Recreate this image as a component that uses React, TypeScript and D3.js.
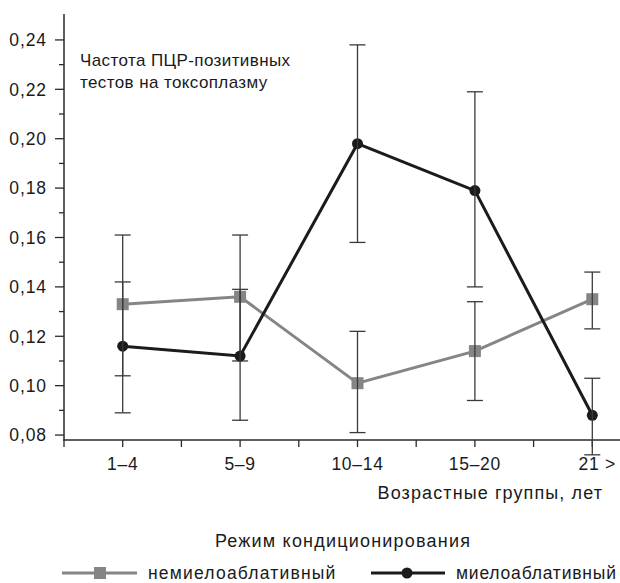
import React from 'react';
import * as d3 from 'd3';

// age groups and PCR-positive test frequency
const categories = ['1–4', '5–9', '10–14', '15–20', '21 >'];

const nonMyelo = [0.133, 0.136, 0.101, 0.114, 0.135];
const nonMyeloLow = [0.104, 0.110, 0.081, 0.094, 0.123];
const nonMyeloHigh = [0.142, 0.139, 0.122, 0.134, 0.146];

const myelo = [0.116, 0.112, 0.198, 0.179, 0.088];
const myeloLow = [0.089, 0.086, 0.158, 0.140, 0.072];
const myeloHigh = [0.161, 0.161, 0.238, 0.219, 0.103];

const yTicks = [0.08, 0.10, 0.12, 0.14, 0.16, 0.18, 0.20, 0.22, 0.24];
const yMinorTicks = [0.09, 0.11, 0.13, 0.15, 0.17, 0.19, 0.21, 0.23];

const W = 620;
const H = 583;
const FONT = '"Liberation Sans", Arial, Helvetica, sans-serif';
const INK = '#1a1a1a';

const App = () => {
  const x = d3.scaleBand<string>().domain(categories).range([64, 651]);
  const y = d3.scaleLinear().domain([0.078, 0.2505]).range([440, 14]);
  const cx = (c: string) => (x(c) as number) + x.bandwidth() / 2;

  const line = d3
    .line<number>()
    .x((_, i) => cx(categories[i]))
    .y(d => y(d));

  const fmt = (v: number) => v.toFixed(2).replace('.', ',');

  const series = [
    { vals: nonMyelo, lo: nonMyeloLow, hi: nonMyeloHigh, color: '#858585', marker: 'square', err: '#3a3a3a' },
    { vals: myelo, lo: myeloLow, hi: myeloHigh, color: '#1c1a1a', marker: 'circle', err: '#3a3a3a' },
  ];

  const bandEdges = categories.map(c => x(c) as number);

  return (
    <svg width={W} height={H} style={{ position: 'absolute', left: 0, top: 0, background: '#fff' }} fontFamily={FONT}>
      {/* y axis */}
      <line x1={64} x2={64} y1={14} y2={440.5} stroke="#2a2a2a" strokeWidth={1.5} />
      {yTicks.map(t => (
        <g key={t}>
          <line x1={55} x2={64} y1={y(t)} y2={y(t)} stroke="#2a2a2a" strokeWidth={1.3} />
          <text x={47} y={y(t)} dy="0.36em" textAnchor="end" fontSize={17.5} letterSpacing={0.9} fill={INK}>
            {fmt(t)}
          </text>
        </g>
      ))}
      {yMinorTicks.map(t => (
        <line key={t} x1={59} x2={64} y1={y(t)} y2={y(t)} stroke="#2a2a2a" strokeWidth={1.3} />
      ))}

      {/* x axis */}
      <line x1={63.3} x2={W} y1={440} y2={440} stroke="#2a2a2a" strokeWidth={1.5} />
      {bandEdges.map((e, i) => (
        <line key={'m' + i} x1={e} x2={e} y1={440} y2={447} stroke="#2a2a2a" strokeWidth={1.3} />
      ))}
      {categories.map(c => (
        <g key={c}>
          <line x1={cx(c)} x2={cx(c)} y1={440} y2={447} stroke="#2a2a2a" strokeWidth={1.3} />
          <text x={cx(c) + (c === '21 >' ? 5 : 0)} y={470} textAnchor="middle" fontSize={17.5} letterSpacing={0.7} fill={INK}>
            {c}
          </text>
        </g>
      ))}
      <text x={603} y={499} textAnchor="end" fontSize={18} letterSpacing={1.1} fill={INK}>
        Возрастные группы, лет
      </text>

      {/* annotation */}
      <text x={80} y={66} fontSize={17} letterSpacing={0.4} fill={INK}>Частота ПЦР-позитивных</text>
      <text x={80} y={88} fontSize={17} letterSpacing={0.4} fill={INK}>тестов на токсоплазму</text>

      {/* series */}
      {series.map((s, si) => (
        <g key={si}>
          <path d={line(s.vals) || ''} fill="none" stroke={s.color} strokeWidth={3} />
          {s.vals.map((v, i) =>
            s.marker === 'square' ? (
              <rect key={i} x={cx(categories[i]) - 6} y={y(v) - 6} width={12} height={12} fill={s.color} />
            ) : (
              <circle key={i} cx={cx(categories[i])} cy={y(v)} r={5.5} fill={s.color} />
            )
          )}
          {s.vals.map((_, i) => {
            const px = cx(categories[i]);
            return (
              <g key={'e' + i} stroke={s.err} strokeWidth={1.3}>
                <line x1={px} x2={px} y1={y(s.hi[i])} y2={y(s.lo[i])} />
                <line x1={px - 8} x2={px + 8} y1={y(s.hi[i])} y2={y(s.hi[i])} />
                <line x1={px - 8} x2={px + 8} y1={y(s.lo[i])} y2={y(s.lo[i])} />
              </g>
            );
          })}
        </g>
      ))}

      {/* legend */}
      <text x={343} y={547} textAnchor="middle" fontSize={18} letterSpacing={1.2} fill={INK}>
        Режим кондиционирования
      </text>
      <line x1={62} x2={137} y1={573} y2={573} stroke="#858585" strokeWidth={3} />
      <rect x={94} y={567} width={12} height={12} fill="#858585" />
      <text x={148} y={579} fontSize={17.5} letterSpacing={1.2} fill={INK}>немиелоаблативный</text>
      <line x1={371} x2={445} y1={573} y2={573} stroke="#1c1a1a" strokeWidth={3} />
      <circle cx={407} cy={573} r={5.5} fill="#1c1a1a" />
      <text x={456} y={579} fontSize={17.5} letterSpacing={0.8} fill={INK}>миелоаблативный</text>
    </svg>
  );
};

export default App;
